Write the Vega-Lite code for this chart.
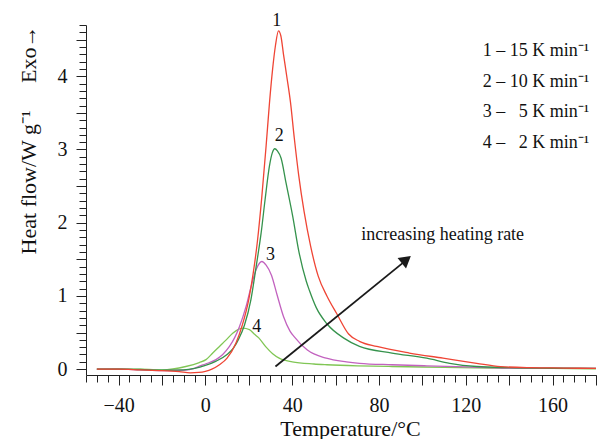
{
  "$schema": "https://vega.github.io/schema/vega-lite/v6.json",
  "width": 510,
  "height": 350,
  "autosize": {"type": "none"},
  "padding": {"left": 86, "top": 25, "right": 10, "bottom": 64},
  "background": "white",
  "config": {
    "view": {"stroke": null},
    "font": "Liberation Serif",
    "axis": {"grid": false, "domainColor": "#222", "tickColor": "#222", "labelColor": "#111", "titleColor": "#111", "labelFont": "Liberation Serif", "titleFont": "Liberation Serif", "titleFontWeight": "normal", "domainWidth": 1, "tickWidth": 1}
  },
  "datasets": {
    "curves": [
      {"s":"4","t":-50,"q":0},{"s":"4","t":-40,"q":0.005},{"s":"4","t":-30,"q":0},{"s":"4","t":-20,"q":-0.01},{"s":"4","t":-9,"q":0.036},{"s":"4","t":-2.8,"q":0.09},{"s":"4","t":0.3,"q":0.13},{"s":"4","t":3.4,"q":0.22},{"s":"4","t":6.5,"q":0.31},{"s":"4","t":9.6,"q":0.4},{"s":"4","t":12.6,"q":0.49},{"s":"4","t":15,"q":0.54},{"s":"4","t":17.2,"q":0.56},{"s":"4","t":20.3,"q":0.54},{"s":"4","t":22.5,"q":0.48},{"s":"4","t":24.5,"q":0.43},{"s":"4","t":28,"q":0.3},{"s":"4","t":31,"q":0.21},{"s":"4","t":34,"q":0.15},{"s":"4","t":40,"q":0.1},{"s":"4","t":50,"q":0.07},{"s":"4","t":56,"q":0.06},{"s":"4","t":70,"q":0.045},{"s":"4","t":86,"q":0.036},{"s":"4","t":110,"q":0.025},{"s":"4","t":132,"q":0.015},{"s":"4","t":160,"q":0.01},{"s":"4","t":180,"q":0.005},
      {"s":"3","t":-50,"q":0},{"s":"3","t":-40,"q":0},{"s":"3","t":-30,"q":-0.01},{"s":"3","t":-20,"q":-0.02},{"s":"3","t":-10,"q":-0.015},{"s":"3","t":-5,"q":0.01},{"s":"3","t":-2.8,"q":0.04},{"s":"3","t":0,"q":0.07},{"s":"3","t":4.9,"q":0.13},{"s":"3","t":8,"q":0.2},{"s":"3","t":11.1,"q":0.31},{"s":"3","t":13.5,"q":0.43},{"s":"3","t":15.7,"q":0.58},{"s":"3","t":18.8,"q":0.86},{"s":"3","t":21.1,"q":1.13},{"s":"3","t":23.4,"q":1.36},{"s":"3","t":25,"q":1.45},{"s":"3","t":26,"q":1.47},{"s":"3","t":28,"q":1.42},{"s":"3","t":30.5,"q":1.28},{"s":"3","t":33,"q":1.02},{"s":"3","t":36,"q":0.72},{"s":"3","t":39,"q":0.52},{"s":"3","t":41,"q":0.44},{"s":"3","t":47,"q":0.26},{"s":"3","t":55.7,"q":0.15},{"s":"3","t":65,"q":0.1},{"s":"3","t":71,"q":0.08},{"s":"3","t":86,"q":0.06},{"s":"3","t":102,"q":0.045},{"s":"3","t":120,"q":0.03},{"s":"3","t":140,"q":0.015},{"s":"3","t":180,"q":0.01},
      {"s":"2","t":-50,"q":0},{"s":"2","t":-40,"q":0},{"s":"2","t":-30,"q":-0.005},{"s":"2","t":-20,"q":-0.015},{"s":"2","t":-10,"q":-0.01},{"s":"2","t":-5,"q":0.01},{"s":"2","t":0,"q":0.05},{"s":"2","t":5,"q":0.11},{"s":"2","t":10,"q":0.2},{"s":"2","t":13,"q":0.29},{"s":"2","t":15.5,"q":0.42},{"s":"2","t":18,"q":0.6},{"s":"2","t":21,"q":0.95},{"s":"2","t":23.4,"q":1.4},{"s":"2","t":25.7,"q":1.86},{"s":"2","t":27.5,"q":2.31},{"s":"2","t":29.5,"q":2.77},{"s":"2","t":30.8,"q":2.95},{"s":"2","t":32,"q":3.01},{"s":"2","t":33.2,"q":2.98},{"s":"2","t":34.9,"q":2.88},{"s":"2","t":37.2,"q":2.54},{"s":"2","t":40.3,"q":2.08},{"s":"2","t":43,"q":1.62},{"s":"2","t":46.5,"q":1.2},{"s":"2","t":48,"q":1.07},{"s":"2","t":51.1,"q":0.84},{"s":"2","t":56,"q":0.62},{"s":"2","t":64,"q":0.42},{"s":"2","t":71,"q":0.31},{"s":"2","t":86,"q":0.22},{"s":"2","t":102,"q":0.15},{"s":"2","t":112.6,"q":0.08},{"s":"2","t":125,"q":0.036},{"s":"2","t":140,"q":0.02},{"s":"2","t":160,"q":0.012},{"s":"2","t":180,"q":0.01},
      {"s":"1","t":-50,"q":0},{"s":"1","t":-40,"q":0},{"s":"1","t":-30,"q":-0.01},{"s":"1","t":-20,"q":-0.02},{"s":"1","t":-12,"q":-0.035},{"s":"1","t":-7,"q":-0.05},{"s":"1","t":-3,"q":-0.045},{"s":"1","t":0,"q":-0.03},{"s":"1","t":3,"q":0},{"s":"1","t":6.5,"q":0.06},{"s":"1","t":10,"q":0.15},{"s":"1","t":14,"q":0.35},{"s":"1","t":17,"q":0.6},{"s":"1","t":20,"q":0.95},{"s":"1","t":22,"q":1.3},{"s":"1","t":24,"q":1.75},{"s":"1","t":26,"q":2.35},{"s":"1","t":28,"q":3.05},{"s":"1","t":29.5,"q":3.62},{"s":"1","t":31,"q":4.1},{"s":"1","t":32.3,"q":4.42},{"s":"1","t":33.7,"q":4.62},{"s":"1","t":34.8,"q":4.55},{"s":"1","t":36,"q":4.3},{"s":"1","t":37.5,"q":4.0},{"s":"1","t":39.2,"q":3.65},{"s":"1","t":41,"q":3.15},{"s":"1","t":43,"q":2.65},{"s":"1","t":45.5,"q":2.15},{"s":"1","t":48.5,"q":1.68},{"s":"1","t":52,"q":1.27},{"s":"1","t":56,"q":1.0},{"s":"1","t":60.5,"q":0.76},{"s":"1","t":66,"q":0.48},{"s":"1","t":71,"q":0.38},{"s":"1","t":79,"q":0.31},{"s":"1","t":94,"q":0.22},{"s":"1","t":109.5,"q":0.15},{"s":"1","t":125,"q":0.08},{"s":"1","t":136,"q":0.035},{"s":"1","t":150,"q":0.02},{"s":"1","t":165,"q":0.015},{"s":"1","t":180,"q":0.01}
    ],
    "peaks": [
      {"label":"1","t":32.9,"q":4.684},
      {"label":"2","t":34.1,"q":3.111},
      {"label":"3","t":30.0,"q":1.494},
      {"label":"4","t":23.7,"q":0.514}
    ],
    "legend": [
      {"label":"1 – 15 K min\u207b\u00b9","t":127.8,"q":4.276},
      {"label":"2 – 10 K min\u207b\u00b9","t":127.8,"q":3.859},
      {"label":"3 – \u20075 K min\u207b\u00b9","t":127.8,"q":3.442},
      {"label":"4 – \u20072 K min\u207b\u00b9","t":127.8,"q":3.026}
    ],
    "arrow": [
      {"t":32.3,"q":0.036,"t2":92.0,"q2":1.475}
    ],
    "head": [
      {"t":92.6,"q":1.496}
    ],
    "note": [
      {"label":"increasing heating rate","t":71.8,"q":1.761}
    ]
  },
  "layer": [
    {
      "data": {"name": "curves"},
      "mark": {"type": "line", "strokeWidth": 1.3, "interpolate": "monotone"},
      "encoding": {
        "x": {"field": "t", "type": "quantitative", "scale": {"domain": [-55, 180], "nice": false, "zero": false},
          "axis": {"orient": "bottom", "values": [-40,-20,0,20,40,60,80,100,120,140,160,180], "labelExpr": "datum.value % 40 == 0 ? datum.label : ''", "tickSize": 10, "labelPadding": 10, "labelFontSize": 20, "labelOverlap": false, "labelFlush": false, "title": "Temperature/°C", "titleFontSize": 22, "titleX": 264, "titleY": 60, "titleBaseline": "alphabetic", "titleAlign": "center"}},
        "y": {"field": "q", "type": "quantitative", "scale": {"domain": [-0.08, 4.7], "nice": false, "zero": false},
          "axis": {"orient": "left", "values": [0,0.5,1,1.5,2,2.5,3,3.5,4,4.5], "format": "~g", "labelExpr": "datum.value % 1 == 0 ? datum.label : ''", "tickSize": 10, "labelPadding": 9, "labelFontSize": 20, "labelOverlap": false, "labelFlush": false, "title": "Heat flow/W g\u207b\u00b9\u2003 Exo\u2192", "titleFontSize": 22, "titleAngle": -90, "titleX": -51, "titleY": 0, "titleAlign": "right", "titleBaseline": "alphabetic"}},
        "color": {"field": "s", "type": "nominal", "legend": null, "scale": {"domain": ["1","2","3","4"], "range": ["#ef4535","#35924c","#c262bf","#80c655"]}}
      }
    },
    {
      "data": {"name": "peaks"},
      "mark": {"type": "text", "fontSize": 18, "align": "center", "baseline": "alphabetic", "color": "#111", "font": "Liberation Serif"},
      "encoding": {
        "x": {"field": "t", "type": "quantitative", "scale": {"domain": [-55, 180], "nice": false, "zero": false},
          "axis": {"orient": "bottom", "values": [-55,-50,-45,-40,-35,-30,-25,-20,-15,-10,-5,0,5,10,15,20,25,30,35,40,45,50,55,60,65,70,75,80,85,90,95,100,105,110,115,120,125,130,135,140,145,150,155,160,165,170,175,180], "labels": false, "domain": false, "tickSize": 7, "title": null}},
        "y": {"field": "q", "type": "quantitative", "scale": {"domain": [-0.08, 4.7], "nice": false, "zero": false},
          "axis": {"orient": "left", "values": [0,0.1,0.2,0.3,0.4,0.5,0.6,0.7,0.8,0.9,1,1.1,1.2,1.3,1.4,1.5,1.6,1.7,1.8,1.9,2,2.1,2.2,2.3,2.4,2.5,2.6,2.7,2.8,2.9,3,3.1,3.2,3.3,3.4,3.5,3.6,3.7,3.8,3.9,4,4.1,4.2,4.3,4.4,4.5,4.6,4.7], "labels": false, "domain": false, "tickSize": 7, "title": null}},
        "text": {"field": "label"}
      }
    },
    {
      "data": {"name": "legend"},
      "mark": {"type": "text", "fontSize": 18, "align": "left", "baseline": "alphabetic", "color": "#111", "font": "Liberation Serif"},
      "encoding": {
        "x": {"field": "t", "type": "quantitative", "scale": {"domain": [-55, 180], "nice": false, "zero": false}, "axis": null},
        "y": {"field": "q", "type": "quantitative", "scale": {"domain": [-0.08, 4.7], "nice": false, "zero": false}, "axis": null},
        "text": {"field": "label"}
      }
    },
    {
      "data": {"name": "note"},
      "mark": {"type": "text", "fontSize": 18, "align": "left", "baseline": "alphabetic", "color": "#111", "font": "Liberation Serif"},
      "encoding": {
        "x": {"field": "t", "type": "quantitative", "scale": {"domain": [-55, 180], "nice": false, "zero": false}, "axis": null},
        "y": {"field": "q", "type": "quantitative", "scale": {"domain": [-0.08, 4.7], "nice": false, "zero": false}, "axis": null},
        "text": {"field": "label"}
      }
    },
    {
      "data": {"name": "arrow"},
      "mark": {"type": "rule", "color": "#1a1a1a", "strokeWidth": 1.8},
      "encoding": {
        "x": {"field": "t", "type": "quantitative", "scale": {"domain": [-55, 180], "nice": false, "zero": false}, "axis": null},
        "y": {"field": "q", "type": "quantitative", "scale": {"domain": [-0.08, 4.7], "nice": false, "zero": false}, "axis": null},
        "x2": {"field": "t2"},
        "y2": {"field": "q2"}
      }
    },
    {
      "data": {"name": "head"},
      "mark": {"type": "point", "shape": "triangle-up", "filled": true, "size": 180, "angle": 51, "color": "#1a1a1a", "opacity": 1},
      "encoding": {
        "x": {"field": "t", "type": "quantitative", "scale": {"domain": [-55, 180], "nice": false, "zero": false}, "axis": null},
        "y": {"field": "q", "type": "quantitative", "scale": {"domain": [-0.08, 4.7], "nice": false, "zero": false}, "axis": null}
      }
    }
  ],
  "resolve": {"axis": {"x": "independent", "y": "independent"}}
}
